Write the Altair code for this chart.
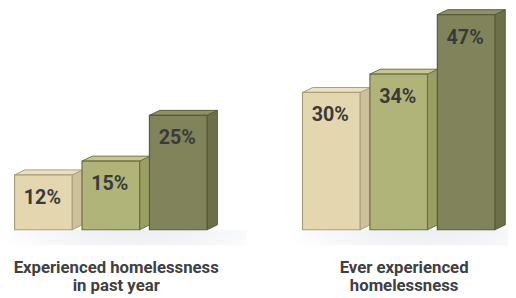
import altair as alt
import pandas as pd

# ---- data ----
groups = ["Experienced homelessness\nin past year", "Ever experienced\nhomelessness"]
series = ["first", "second", "third"]
values_past_year = [12, 15, 25]
values_ever = [30, 34, 47]
labels_past_year = ["12%", "15%", "25%"]
labels_ever = ["30%", "34%", "47%"]

# ---- styling ----
front_colors = ["#e4d6ae", "#b1b479", "#81835a"]
side_colors = ["#cdc19b", "#9b9e64", "#6d6f48"]
top_colors = ["#ebe1c0", "#c6c78d", "#8e9066"]
edge_colors = ["#a99f7b", "#6c6f40", "#585a38"]
FONT = "Roboto, Liberation Sans, sans-serif"

GROUP_STEP = 4.27   # distance between groups, in bar steps
BAR_W = 0.854       # front face width, in bar steps
DEPTH_X = 0.153     # 3D depth, horizontal
DEPTH_Y = 1.08      # 3D depth, vertical (percentage units)

bars, sides, tops, shadows, cats = [], [], [], [], []
for gi, (g, vals, labs) in enumerate(zip(groups, [values_past_year, values_ever],
                                          [labels_past_year, labels_ever])):
    base = gi * GROUP_STEP
    for si, (v, lab) in enumerate(zip(vals, labs)):
        left = base + si
        right = left + BAR_W
        bid = f"{gi}-{si}"
        bars.append(dict(bar=bid, group=g, series=series[si], value=v, label=lab,
                         left=left, right=right, center=left + BAR_W / 2,
                         front=front_colors[si], edge=edge_colors[si]))
        for x, y, y2 in [(right, v, 0), (right + DEPTH_X, v + DEPTH_Y, DEPTH_Y)]:
            sides.append(dict(bar=bid, x=x, y=y, y2=y2, fill=side_colors[si], edge=edge_colors[si]))
        for x, y, y2 in [(left, v, v), (left + DEPTH_X, v + DEPTH_Y, v),
                         (right, v + DEPTH_Y, v), (right + DEPTH_X, v + DEPTH_Y, v + DEPTH_Y)]:
            tops.append(dict(bar=bid, x=x, y=y, y2=y2, fill=top_colors[si], edge=edge_colors[si]))
    shadows.append(dict(group=g, x0=base - 0.2, x1=base + 2 + BAR_W + 0.6, y0=0.0, y1=-3.4))
    cats.append(dict(group=g, center=base + 1 + BAR_W / 2 + 0.08))

bars_df = pd.DataFrame(bars)
sides_df = pd.DataFrame(sides)
tops_df = pd.DataFrame(tops)
shadow_df = pd.DataFrame(shadows)
cat_df = pd.DataFrame(cats)

xs = alt.Scale(domain=[-0.0978, 7.318], nice=False, zero=False)
ys = alt.Scale(domain=[0, 47.53], nice=False, zero=False)

shadow = alt.Chart(shadow_df).mark_rect(
    fill=alt.RadialGradient(gradient="radial", x1=0.55, y1=0.0, r1=0, x2=0.55, y2=0.0, r2=0.75,
                            stops=[alt.GradientStop(color="#d0d6df", offset=0),
                                   alt.GradientStop(color="#e7eaef", offset=0.5),
                                   alt.GradientStop(color="#ffffff", offset=1)])
).encode(
    x=alt.X("x0:Q", scale=xs, axis=None), x2="x1:Q",
    y=alt.Y("y0:Q", scale=ys, axis=None), y2="y1:Q",
)

side = alt.Chart(sides_df).mark_area(strokeWidth=1, strokeJoin="round").encode(
    x=alt.X("x:Q", scale=xs, axis=None),
    y=alt.Y("y:Q", scale=ys, axis=None, stack=None),
    y2="y2:Q",
    detail="bar:N",
    fill=alt.Fill("fill:N", scale=None),
    stroke=alt.Stroke("edge:N", scale=None),
)

top = alt.Chart(tops_df).mark_area(strokeWidth=1, strokeJoin="round").encode(
    x=alt.X("x:Q", scale=xs, axis=None),
    y=alt.Y("y:Q", scale=ys, axis=None, stack=None),
    y2="y2:Q",
    detail="bar:N",
    fill=alt.Fill("fill:N", scale=None),
    stroke=alt.Stroke("edge:N", scale=None),
)

front = alt.Chart(bars_df).mark_bar(strokeWidth=1.2).encode(
    x=alt.X("left:Q", scale=xs, axis=None), x2="right:Q",
    y=alt.Y("value:Q", scale=ys, axis=None), y2=alt.datum(0),
    fill=alt.Fill("front:N", scale=None),
    stroke=alt.Stroke("edge:N", scale=None),
)

value_text = alt.Chart(bars_df).mark_text(
    font=FONT, fontSize=20, fontWeight="bold", color="#3a3a3a",
    baseline="alphabetic", align="center", dy=29.5, dx=-1,
).encode(
    x=alt.X("center:Q", scale=xs, axis=None),
    y=alt.Y("value:Q", scale=ys, axis=None),
    text="label:N",
)

cat_text = alt.Chart(cat_df).mark_text(
    font=FONT, fontSize=17, fontWeight="bold", color="#404040",
    baseline="alphabetic", align="center", lineBreak="\n", lineHeight=18.5,
).encode(
    x=alt.X("center:Q", scale=xs, axis=None),
    y=alt.value(265),
    text="group:N",
)

chart = alt.layer(shadow, side, top, front, value_text, cat_text).properties(
    width=508, height=221,
    autosize=alt.AutoSizeParams(type="none"),
    padding={"left": 0, "right": 0, "top": 2, "bottom": 63},
    background="white",
).configure_view(stroke=None)

chart.save("out.html", embed_options={"renderer": "svg", "actions": False})
